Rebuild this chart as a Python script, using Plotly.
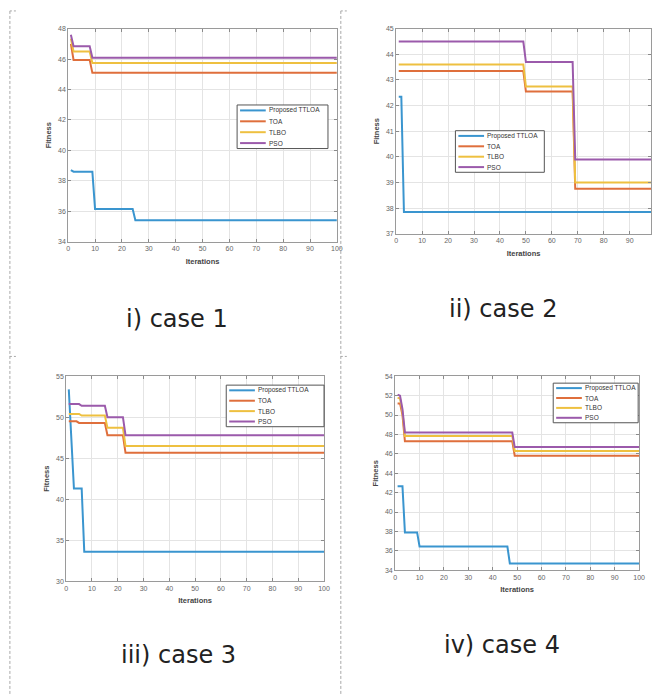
import plotly.graph_objects as go

W, H = 657, 697

names = ["Proposed TTLOA", "TOA", "TLBO", "PSO"]
colors = ["#3a95cf", "#df6f3c", "#eec040", "#9b5aab"]

# ---- case 1 ----
c1_ttloa_x = [1, 2, 9, 10, 24, 25, 100]
c1_ttloa_y = [38.7, 38.6, 38.6, 36.15, 36.15, 35.4, 35.4]
c1_toa_x = [1, 2, 8, 9, 100]
c1_toa_y = [47.0, 45.95, 45.95, 45.1, 45.1]
c1_tlbo_x = [1, 2, 8, 9, 100]
c1_tlbo_y = [47.35, 46.5, 46.5, 45.75, 45.75]
c1_pso_x = [1, 2, 8, 9, 100]
c1_pso_y = [47.6, 46.85, 46.85, 46.1, 46.1]

# ---- case 2 ----
c2_ttloa_x = [1, 2, 3, 100]
c2_ttloa_y = [42.35, 42.35, 37.85, 37.85]
c2_other_x = [1, 49, 50, 68, 69, 100]
c2_toa_y = [43.35, 43.35, 42.55, 42.55, 38.75, 38.75]
c2_tlbo_y = [43.6, 43.6, 42.75, 42.75, 39.0, 39.0]
c2_pso_y = [44.5, 44.5, 43.7, 43.7, 39.9, 39.9]

# ---- case 3 ----
c3_ttloa_x = [1, 3, 6, 7, 100]
c3_ttloa_y = [53.4, 41.3, 41.3, 33.6, 33.6]
c3_toa_x = [1, 4, 5, 15, 16, 22, 23, 100]
c3_toa_y = [49.5, 49.5, 49.3, 49.3, 47.8, 47.8, 45.65, 45.65]
c3_tlbo_x = [1, 5, 6, 15, 16, 22, 23, 100]
c3_tlbo_y = [50.4, 50.4, 50.2, 50.2, 48.7, 48.7, 46.5, 46.5]
c3_pso_x = [1, 5, 6, 15, 16, 22, 23, 100]
c3_pso_y = [51.6, 51.6, 51.4, 51.4, 50.0, 50.0, 47.8, 47.8]

# ---- case 4 ----
c4_ttloa_x = [1, 3, 4, 9, 10, 46, 47, 100]
c4_ttloa_y = [42.65, 42.65, 37.9, 37.9, 36.45, 36.45, 34.7, 34.7]
c4_other_x = [1, 2, 3, 4, 48, 49, 100]
c4_toa_y = [51.2, 51.2, 50.0, 47.3, 47.3, 45.8, 45.8]
c4_tlbo_y = [51.8, 51.7, 50.3, 47.85, 47.85, 46.3, 46.3]
c4_pso_y = [52.1, 52.0, 50.6, 48.2, 48.2, 46.7, 46.7]

captions = ["i) case 1", "ii) case 2", "iii) case 3", "iv) case 4"]
x_ticks = [0, 10, 20, 30, 40, 50, 60, 70, 80, 90, 100]
y_ticks = [
    [34, 36, 38, 40, 42, 44, 46, 48],
    [37, 38, 39, 40, 41, 42, 43, 44, 45],
    [30, 35, 40, 45, 50, 55],
    [34, 36, 38, 40, 42, 44, 46, 48, 50, 52, 54],
]
y_ranges = [[34, 48], [37, 45], [30, 55], [34, 54]]
x_ranges = [[0, 100], [0, 98.2], [0, 100], [0, 100]]

series = [
    [(c1_ttloa_x, c1_ttloa_y), (c1_toa_x, c1_toa_y), (c1_tlbo_x, c1_tlbo_y), (c1_pso_x, c1_pso_y)],
    [(c2_ttloa_x, c2_ttloa_y), (c2_other_x, c2_toa_y), (c2_other_x, c2_tlbo_y), (c2_other_x, c2_pso_y)],
    [(c3_ttloa_x, c3_ttloa_y), (c3_toa_x, c3_toa_y), (c3_tlbo_x, c3_tlbo_y), (c3_pso_x, c3_pso_y)],
    [(c4_ttloa_x, c4_ttloa_y), (c4_other_x, c4_toa_y), (c4_other_x, c4_tlbo_y), (c4_other_x, c4_pso_y)],
]

# layout in pixels: (left, right, top, bottom)
boxes = [(67, 339, 25, 240), (399, 657, 25, 232), (65, 326, 376, 583), (398, 645, 376, 572)]
# legend boxes (left, right, top, bottom)
leg_boxes = [(238, 330, 102, 146), (459, 549, 128, 170), (227, 326, 385, 427), (558, 644, 383, 423)]
cap_pos = [(177, 318), (507, 308), (179, 658), (506, 647)]


def px(x):
    return x / W


def py(y):
    return 1 - y / H


fig = go.Figure()
shapes = []
annotations = []

for i in range(4):
    sfx = "" if i == 0 else str(i + 1)
    for k in range(4):
        xs, ys = series[i][k]
        fig.add_trace(go.Scatter(
            x=xs, y=ys, mode="lines", name=names[k], showlegend=False,
            line=dict(color=colors[k], width=2),
            xaxis="x" + sfx, yaxis="y" + sfx,
        ))
    l, r, t, b = boxes[i]
    axcommon = dict(
        showgrid=True, gridcolor="#e4e4e4", gridwidth=1,
        showline=True, linecolor="#9a9a9a", linewidth=1, mirror="ticks",
        ticks="inside", ticklen=3, tickcolor="#8a8a8a",
        tickfont=dict(size=7, color="#666", family="Liberation Sans, Arial"),
        zeroline=False, fixedrange=True,
    )
    fig.update_layout({
        "xaxis" + sfx: dict(
            domain=[px(l), min(px(r), 1)], range=x_ranges[i], tickvals=x_ticks,
            anchor="y" + sfx,
            title=dict(text="Iterations", standoff=7,
                       font=dict(size=7.5, color="#444", family="Liberation Sans, Arial", weight="bold")),
            **axcommon),
        "yaxis" + sfx: dict(
            domain=[py(b), py(t)], range=y_ranges[i], tickvals=y_ticks[i],
            anchor="x" + sfx,
            title=dict(text="Fitness", standoff=5,
                       font=dict(size=7.5, color="#444", family="Liberation Sans, Arial", weight="bold")),
            **axcommon),
    })
    # manual MATLAB-style legend
    ll, lr, lt, lb = leg_boxes[i]
    shapes.append(dict(type="rect", xref="paper", yref="paper",
                       x0=px(ll), x1=px(lr), y0=py(lb), y1=py(lt),
                       line=dict(color="#555", width=1), fillcolor="white", layer="above"))
    rowh = (lb - lt) / 4.0
    for k in range(4):
        yy = lt + rowh * (k + 0.5)
        shapes.append(dict(type="line", xref="paper", yref="paper",
                           x0=px(ll + 3), x1=px(ll + 29), y0=py(yy), y1=py(yy),
                           line=dict(color=colors[k], width=2), layer="above"))
        annotations.append(dict(xref="paper", yref="paper", x=px(ll + 30), y=py(yy),
                                xanchor="left", yanchor="middle", showarrow=False,
                                text=names[k],
                                font=dict(size=6.5, color="#333", family="Liberation Sans, Arial")))
    cx, cy = cap_pos[i]
    annotations.append(dict(xref="paper", yref="paper", x=px(cx), y=py(cy),
                            xanchor="center", yanchor="middle", showarrow=False,
                            text=captions[i],
                            font=dict(size=24, color="#222", family="DejaVu Sans")))

# dashed frame guides of the composite figure
for gx in (8, 343):
    shapes.append(dict(type="line", xref="paper", yref="paper", x0=px(gx), x1=px(gx),
                       y0=py(7), y1=py(697), line=dict(color="#a8a8a8", width=1, dash="3px,2px")))
    for gy in (7, 356):
        shapes.append(dict(type="line", xref="paper", yref="paper", x0=px(gx), x1=px(gx + 8),
                           y0=py(gy), y1=py(gy), line=dict(color="#a8a8a8", width=1, dash="2px,2px")))

fig.update_layout(
    width=W, height=H,
    margin=dict(l=0, r=0, t=0, b=0),
    paper_bgcolor="white", plot_bgcolor="white",
    showlegend=False,
    shapes=shapes, annotations=annotations,
)

fig.write_html("out.html", config={"displayModeBar": False},
               post_script="document.body.style.margin='0';document.body.style.overflow='hidden';")
